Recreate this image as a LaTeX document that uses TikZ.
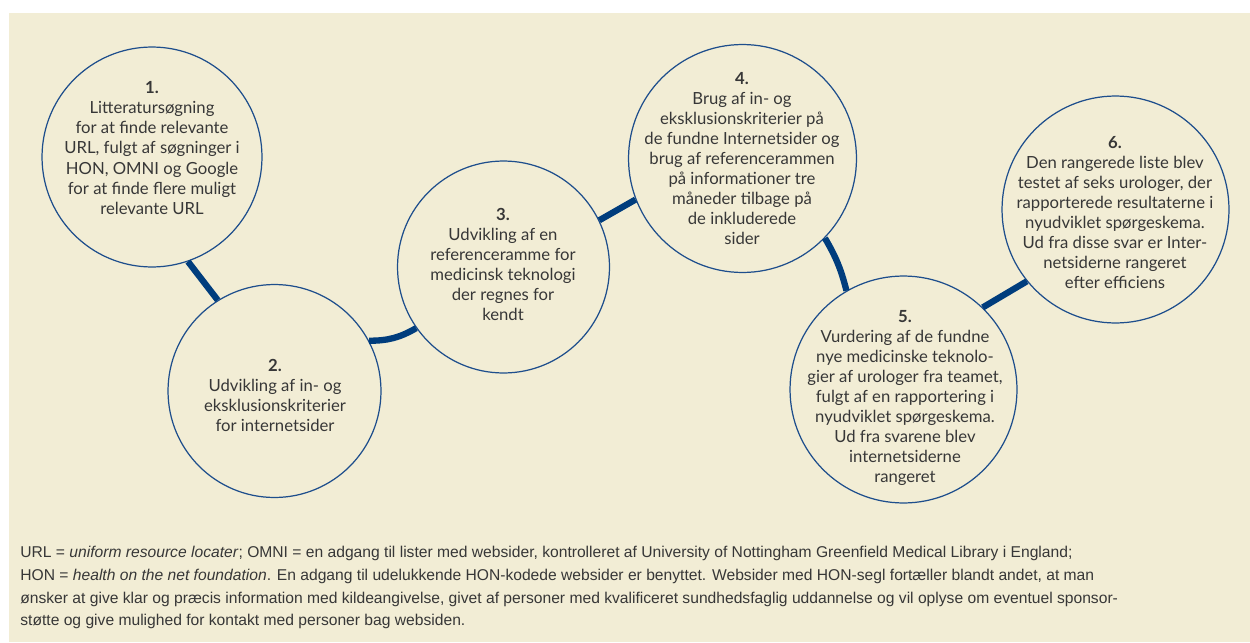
\documentclass[tikz,border=0pt]{standalone}
\usepackage{fontspec}
\setmainfont{Lato}
\newfontfamily\notefont{Liberation Sans}
\usetikzlibrary{positioning}
\definecolor{panel}{RGB}{242,237,213}
\definecolor{navy}{RGB}{0,61,125}
\definecolor{ring}{RGB}{30,78,140}
\definecolor{ink}{RGB}{55,55,55}

\begin{document}
\begin{tikzpicture}[x=0.02cm, y=-0.02cm,
    stage/.style={circle, draw=ring, line width=0.7pt, inner sep=0pt, minimum size=#1},
    stagetext/.style={align=center, text=ink, inner sep=0pt, font=\fontsize{9.5}{11.4}\selectfont},
    link/.style={draw=navy, line width=3.6pt},
    notetext/.style={align=left, text=ink, inner sep=0pt, font=\notefont\fontsize{8.9}{12.9}\selectfont}]

  \useasboundingbox (0,0) rectangle (1250,642);
  \fill[panel] (9,13) rectangle (1250,642);

  \node[stage=4.4cm] (c1) at (152,157) {};
  \node[stage=4.26cm] (c2) at (274.5,391) {};
  \node[stage=4.24cm] (c3) at (503.5,267) {};
  \node[stage=4.56cm] (c4) at (742.5,158.5) {};
  \node[stage=4.54cm] (c5) at (903.5,389.5) {};
  \node[stage=4.54cm] (c6) at (1115.5,209.5) {};

  \node[stagetext] (t1) at (152,148) {\textbf{1.}\\Litteraturs\o gning\\for at finde relevante\\URL, fulgt af s\o gninger i\\HON, OMNI og Google\\for at finde flere muligt\\relevante URL};
  \node[stagetext] (t2) at (275,395.5) {\textbf{2.}\\Udvikling af in- og\\eksklusionskriterier\\for internetsider};
  \node[stagetext] (t3) at (503,264.5) {\textbf{3.}\\Udvikling af en\\referenceramme for\\medicinsk teknologi\\der regnes for\\kendt};
  \node[stagetext] (t4) at (742,158.5) {\textbf{4.}\\Brug af in- og\\eksklusionskriterier p\aa\\de fundne Internetsider og\\brug af referencerammen\\p\aa{} informationer tre\\m\aa neder tilbage p\aa\\de inkluderede\\sider};
  \node[stagetext] (t5) at (905,398) {\textbf{5.}\\Vurdering af de fundne\\nye medicinske teknolo-\\gier af urologer fra teamet,\\fulgt af en rapportering i\\nyudviklet sp\o rgeskema.\\Ud fra svarene blev\\internetsiderne\\rangeret};
  \node[stagetext] (t6) at (1115,212.5) {\textbf{6.}\\Den rangerede liste blev\\testet af seks urologer, der\\rapporterede resultaterne i\\nyudviklet sp\o rgeskema.\\Ud fra disse svar er Inter-\\netsiderne rangeret\\efter efficiens};

  \draw[link] (c1.-71) -- (c2.122);
  \draw[link] (c2.28) to[bend right=15] (c3.215);
  \draw[link] (c3.26) -- (c4.201);
  \draw[link] (c4.-44) to[bend left=8] (c5.120);
  \draw[link] (c5.46) -- (c6.219);

  \node[notetext, anchor=north west] (note) at (20,546) {URL = \textit{uniform resource locater}; OMNI = en adgang til lister med websider, kontrolleret af University of Nottingham Greenfield Medical Library i England;\\
    HON = \textit{health on the net foundation}. En adgang til udelukkende HON-kodede websider er benyttet. Websider med HON-segl fort\ae ller blandt andet, at man\\
    \o nsker at give klar og pr\ae cis information med kildeangivelse, givet af personer med kvalificeret sundhedsfaglig uddannelse og vil oplyse om eventuel sponsor-\\
    st\o tte og give mulighed for kontakt med personer bag websiden.};
\end{tikzpicture}
\end{document}
